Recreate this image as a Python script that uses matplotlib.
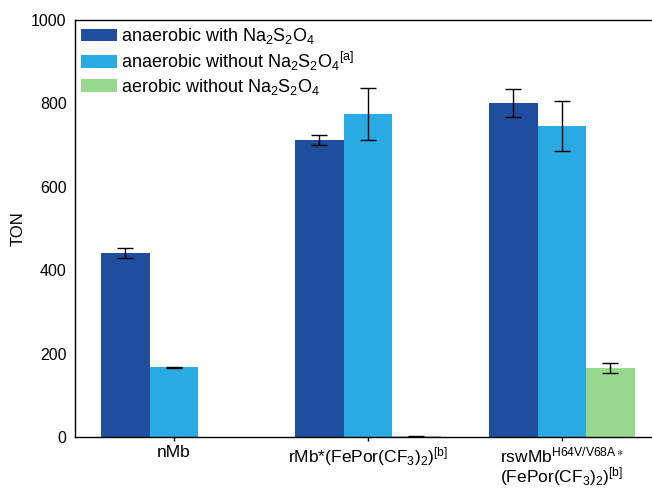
import numpy as np
import matplotlib
matplotlib.use("Agg")
import matplotlib.pyplot as plt

plt.rcParams['font.family'] = ['Liberation Sans', 'DejaVu Sans']
plt.rcParams['mathtext.fontset'] = 'custom'
plt.rcParams['mathtext.rm'] = 'Liberation Sans'
plt.rcParams['mathtext.it'] = 'Liberation Sans'
plt.rcParams['mathtext.default'] = 'regular'

# data
groups = ["nMb",
          "rMb*(FePor(CF$_3$)$_2$)$^{[b]}$",
          "rswMb$^{H64V/V68A\\ast}$\n(FePor(CF$_3$)$_2$)$^{[b]}$"]
series = ["anaerobic with Na$_2$S$_2$O$_4$",
          "anaerobic without Na$_2$S$_2$O$_4$$^{[a]}$",
          "aerobic without Na$_2$S$_2$O$_4$"]
anaer_with = [441, 712, 801]
anaer_with_err = [12, 12, 33]
anaer_without = [167, 775, 746]
anaer_without_err = [2, 62, 59]
aerobic = [np.nan, 2, 165]
aerobic_err = [np.nan, 1, 12]
colors = ["#1f4e9e", "#2aaae2", "#99d98f"]

fig = plt.figure(figsize=(6.52, 4.88), dpi=100)
ax = fig.add_axes([75 / 652, 1 - 437 / 488, 1 - 75 / 652, 417 / 488])

x = np.arange(len(groups))
w = 0.25
vals = [anaer_with, anaer_without, aerobic]
errs = [anaer_with_err, anaer_without_err, aerobic_err]
for i, (v, e) in enumerate(zip(vals, errs)):
    ax.bar(x + (i - 1) * w, v, w, yerr=e, color=colors[i], label=series[i],
           capsize=6, error_kw=dict(elinewidth=1, capthick=1, ecolor="black"))

ax.set_xlim(-0.51, 2.465)
ax.set_ylim(0, 1000)
ax.set_yticks(range(0, 1001, 200))
ax.set_xticks(x)
ax.set_xticklabels(groups, fontsize=12.5, linespacing=1.0)
ax.tick_params(axis="y", length=0, pad=6, labelsize=11.5)
ax.tick_params(axis="x", length=3, width=1, pad=3)
ax.set_ylabel("TON", fontsize=12, labelpad=4)
ax.spines["right"].set_visible(False)
for s in ["left", "top", "bottom"]:
    ax.spines[s].set_linewidth(1)

ax.legend(loc="upper left", frameon=False, fontsize=13, handlelength=2.0,
          handleheight=0.7, handletextpad=0.2, labelspacing=0.2,
          borderaxespad=0.0, borderpad=0.35, bbox_to_anchor=(0.0, 1.0))

fig.savefig("out.png", dpi=100)
